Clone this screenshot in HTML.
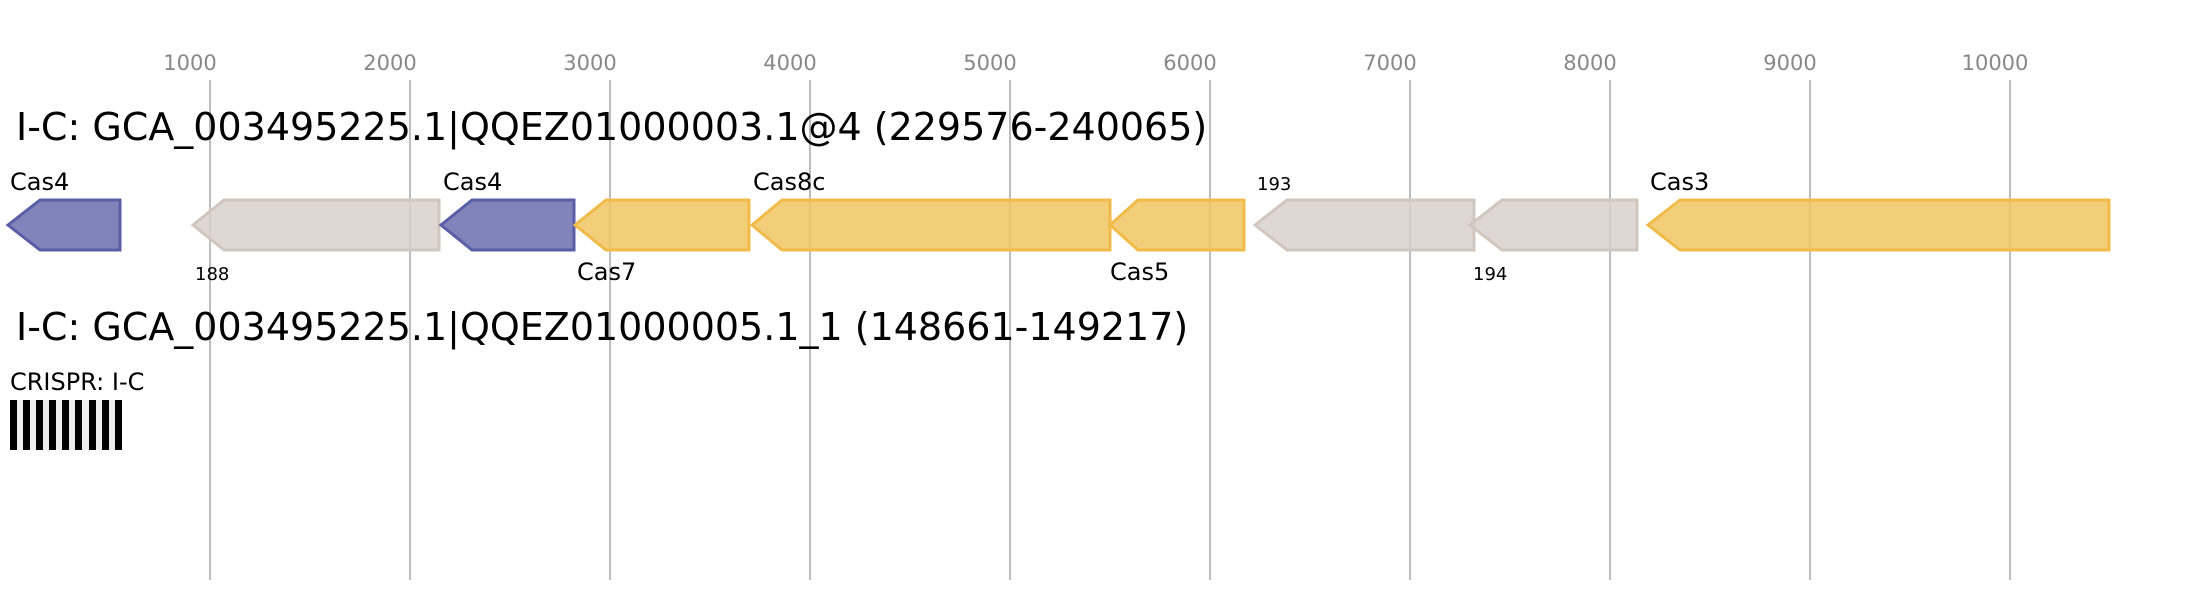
<!DOCTYPE html>
<html><head><meta charset="utf-8"><style>html,body{margin:0;padding:0;background:#fff}svg{display:block}</style></head>
<body>
<svg width="2198" height="600" xmlns="http://www.w3.org/2000/svg" font-family="DejaVu Sans, Liberation Sans, sans-serif">
<g stroke="#bdbdbd" stroke-width="2">
<line x1="210" y1="80" x2="210" y2="580"/><line x1="410" y1="80" x2="410" y2="580"/><line x1="610" y1="80" x2="610" y2="580"/><line x1="810" y1="80" x2="810" y2="580"/><line x1="1010" y1="80" x2="1010" y2="580"/><line x1="1210" y1="80" x2="1210" y2="580"/><line x1="1410" y1="80" x2="1410" y2="580"/><line x1="1610" y1="80" x2="1610" y2="580"/><line x1="1810" y1="80" x2="1810" y2="580"/><line x1="2010" y1="80" x2="2010" y2="580"/>
</g>
<g fill="#888" font-size="21" text-anchor="middle">
<text x="190" y="70">1000</text><text x="390" y="70">2000</text><text x="590" y="70">3000</text><text x="790" y="70">4000</text><text x="990" y="70">5000</text><text x="1190" y="70">6000</text><text x="1390" y="70">7000</text><text x="1590" y="70">8000</text><text x="1790" y="70">9000</text><text x="1995" y="70">10000</text>
</g>
<text x="16" y="140" font-size="38">I-C: GCA_003495225.1|QQEZ01000003.1@4 (229576-240065)</text>
<g stroke-width="3" fill-opacity="0.85">
<polygon points="8,225 40,200 120,200 120,250 40,250" fill="#6b6fae" stroke="#5a5ea6"/>
<polygon points="193,225 224,200 439,200 439,250 224,250" fill="#d8d0ca" stroke="#d0c6be"/>
<polygon points="441,225 472,200 574,200 574,250 472,250" fill="#6b6fae" stroke="#5a5ea6"/>
<polygon points="575,225 606,200 749,200 749,250 606,250" fill="#f0c660" stroke="#f0bb48"/>
<polygon points="752,225 782,200 1110,200 1110,250 782,250" fill="#f0c660" stroke="#f0bb48"/>
<polygon points="1110,225 1138,200 1244,200 1244,250 1138,250" fill="#f0c660" stroke="#f0bb48"/>
<polygon points="1255,225 1287,200 1474,200 1474,250 1287,250" fill="#d8d0ca" stroke="#d0c6be"/>
<polygon points="1470,225 1502,200 1637,200 1637,250 1502,250" fill="#d8d0ca" stroke="#d0c6be"/>
<polygon points="1648,225 1680,200 2109,200 2109,250 1680,250" fill="#f0c660" stroke="#f0bb48"/>
</g>
<g font-size="24" fill="#000">
<text x="10" y="190">Cas4</text><text x="443" y="190">Cas4</text><text x="753" y="190">Cas8c</text><text x="1650" y="190">Cas3</text>
<text x="577" y="280">Cas7</text><text x="1110" y="280">Cas5</text>
</g>
<g font-size="18" fill="#000">
<text x="195" y="280">188</text><text x="1257" y="190">193</text><text x="1473" y="280">194</text>
</g>
<text x="16" y="340" font-size="38">I-C: GCA_003495225.1|QQEZ01000005.1_1 (148661-149217)</text>
<text x="10" y="390" font-size="24">CRISPR: I-C</text>
<rect x="10" y="400" width="112" height="50" fill="#eee"/>
<g fill="#000">
<rect x="10" y="400" width="7" height="50"/><rect x="23" y="400" width="7" height="50"/><rect x="36" y="400" width="7" height="50"/><rect x="49" y="400" width="7" height="50"/><rect x="62" y="400" width="7" height="50"/><rect x="75" y="400" width="7" height="50"/><rect x="89" y="400" width="7" height="50"/><rect x="102" y="400" width="7" height="50"/><rect x="115" y="400" width="7" height="50"/>
</g>
</svg>
</body></html>
